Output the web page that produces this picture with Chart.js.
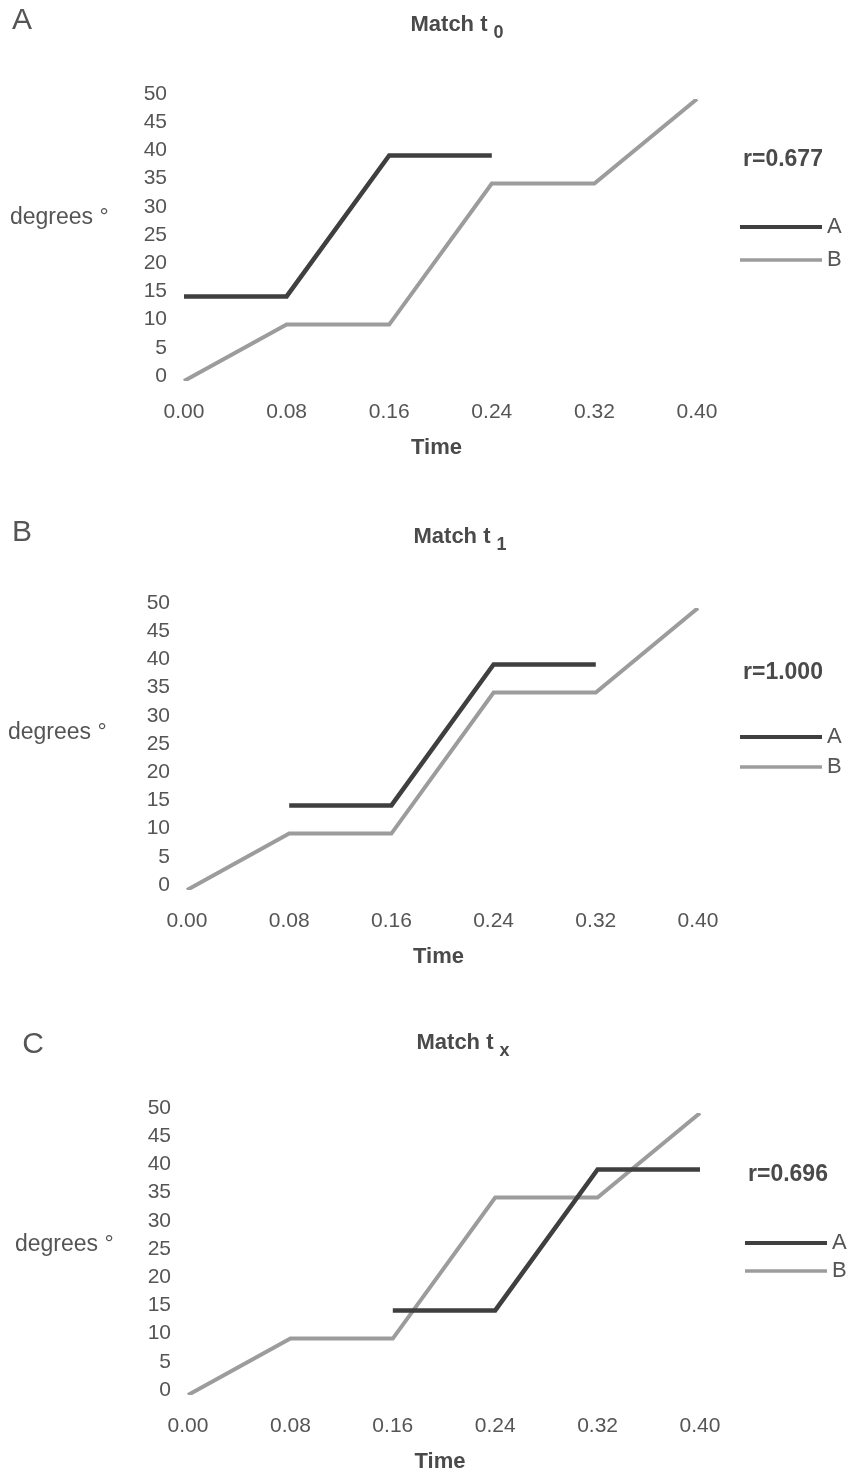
<!DOCTYPE html>
<html>
<head>
<meta charset="utf-8">
<script src="https://cdn.jsdelivr.net/npm/chart.js@4.4.1/dist/chart.umd.min.js"></script>
<style>
	body { margin: 0; background: #fff; width: 851px; height: 1471px; position: relative; overflow: hidden; }
	.panel { position: absolute; left: 0; width: 851px; }
	canvas { display: block; }
</style>
</head>
<body>
<div class="panel" style="top:0px"><canvas id="chartA" width="851" height="508"></canvas></div>
<div class="panel" style="top:508px"><canvas id="chartB" width="851" height="505"></canvas></div>
<div class="panel" style="top:1013px"><canvas id="chartC" width="851" height="458"></canvas></div>
<script>
// chart values
const timeLabels = ['0.00', '0.08', '0.16', '0.24', '0.32', '0.40'];
const seriesB = [0, 10, 10, 35, 35, 50];
const seriesA_t0 = [15, 15, 40, 40, null, null];
const seriesA_t1 = [null, 15, 15, 40, 40, null];
const seriesA_tx = [null, null, 15, 15, 40, 40];
const panelLetters = ['A', 'B', 'C'];
const titleSubscripts = ['0', '1', 'x'];
const rValues = ['r=0.677', 'r=1.000', 'r=0.696'];
const legendNames = ['A', 'B'];

// layout of each panel (canvas coords)
const panels = [
	{ id: 'chartA', series: seriesA_t0, left: 184, right: 697, top: 99, bottom: 381,
		letter: [22, 21], title: [449, 25], degrees: [10, 218], r: [743, 160], legend: [740, 822, 227, 260] },
	{ id: 'chartB', series: seriesA_t1, left: 187, right: 698, top: 100, bottom: 382,
		letter: [22, 25], title: [452, 29], degrees: [8, 225], r: [743, 165], legend: [740, 822, 229, 259] },
	{ id: 'chartC', series: seriesA_tx, left: 188, right: 700, top: 100, bottom: 382,
		letter: [33, 32], title: [455, 30], degrees: [15, 232], r: [748, 162], legend: [745, 827, 230, 258] }
];

const FONT = '"Liberation Sans", Arial, Helvetica, sans-serif';
const TEXT = '#555';
const DARK = '#3f3f3f';
const LIGHT = '#9c9c9c';

// draws the letter, title, axis names, r value and the legend
const decorPlugin = {
	id: 'decor',
	afterDraw: function(chart)
	{
		const p = chart.options.plugins.decor;
		const ctx = chart.ctx;
		const area = chart.chartArea;
		ctx.save();
		ctx.fillStyle = TEXT;
		ctx.textBaseline = 'middle';

		ctx.font = '30px ' + FONT;
		ctx.textAlign = 'center';
		ctx.fillText(p.letter, p.pos.letter[0], p.pos.letter[1]);

		ctx.font = 'bold 22px ' + FONT;
		ctx.fillStyle = '#4a4a4a';
		ctx.textAlign = 'center';
		ctx.fillText('Match t', p.pos.title[0], p.pos.title[1]);
		let w = ctx.measureText('Match t').width;
		ctx.font = 'bold 18px ' + FONT;
		ctx.textAlign = 'left';
		ctx.fillText(p.sub, p.pos.title[0] + w / 2 + 6, p.pos.title[1] + 8);

		ctx.font = 'bold 22px ' + FONT;
		ctx.textAlign = 'center';
		ctx.fillText('Time', (area.left + area.right) / 2 - 4, area.bottom + 67);

		ctx.fillStyle = TEXT;
		ctx.font = '23px ' + FONT;
		ctx.textAlign = 'left';
		ctx.fillText('degrees \u00b0', p.pos.degrees[0], p.pos.degrees[1]);

		ctx.font = 'bold 23px ' + FONT;
		ctx.fillStyle = '#4a4a4a';
		ctx.fillText(p.r, p.pos.r[0], p.pos.r[1]);

		const lg = p.pos.legend;
		chart.data.datasets.forEach(function(ds, i) {
			const y = lg[2 + i];
			ctx.strokeStyle = ds.borderColor;
			ctx.lineWidth = ds.borderWidth - 0.5;
			ctx.beginPath();
			ctx.moveTo(lg[0], y);
			ctx.lineTo(lg[1], y);
			ctx.stroke();
			ctx.fillStyle = TEXT;
			ctx.font = '22px ' + FONT;
			ctx.fillText(ds.label, lg[1] + 5, y);
		});
		ctx.restore();
	}
};

const charts = [];
for(let i = 0; i < panels.length; i++)
{
	const pos = panels[i];
	const canvas = document.getElementById(pos.id);
	charts.push(new Chart(canvas, {
		type: 'line',
		data: {
			labels: timeLabels,
			datasets: [
				{ label: legendNames[0], data: pos.series, borderColor: DARK, borderWidth: 4.5, pointRadius: 0, spanGaps: false, tension: 0, borderJoinStyle: 'miter' },
				{ label: legendNames[1], data: seriesB, borderColor: LIGHT, borderWidth: 4, pointRadius: 0, tension: 0, borderJoinStyle: 'miter' }
			]
		},
		options: {
			responsive: false,
			animation: false,
			layout: { padding: { top: pos.top, left: 0, right: canvas.width - pos.right, bottom: 0 } },
			plugins: {
				legend: { display: false },
				tooltip: { enabled: false },
				decor: { letter: panelLetters[i], sub: titleSubscripts[i], r: rValues[i], pos: pos }
			},
			scales: {
				x: {
					offset: false,
					grid: { display: false, drawTicks: false },
					border: { display: false },
					ticks: { color: TEXT, font: { family: FONT, size: 21 }, padding: 19, maxRotation: 0, autoSkip: false },
					afterFit: function(scale) { scale.height = canvas.height - pos.bottom; }
				},
				y: {
					min: 0,
					max: 50,
					grid: { display: false, drawTicks: false },
					border: { display: false },
					ticks: { stepSize: 5, color: TEXT, font: { family: FONT, size: 21 }, padding: 17, labelOffset: -5 },
					afterFit: function(scale) { scale.width = pos.left; }
				}
			}
		},
		plugins: [decorPlugin]
	}));
}
</script>
</body>
</html>
